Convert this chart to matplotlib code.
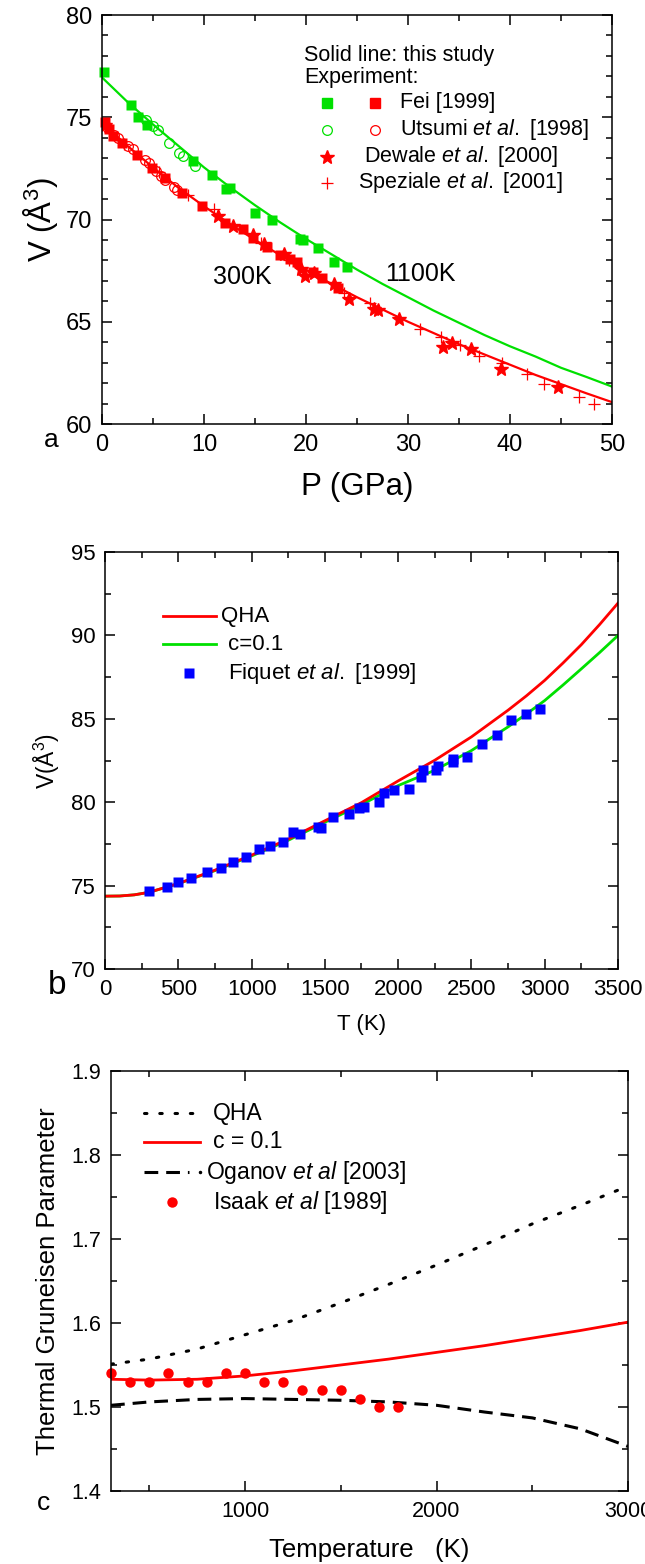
import numpy as np
import matplotlib
matplotlib.use('Agg')
import matplotlib.pyplot as plt
from matplotlib.ticker import MultipleLocator

plt.rcParams['font.family'] = ['Liberation Sans', 'DejaVu Sans']
plt.rcParams['mathtext.fontset'] = 'custom'
plt.rcParams['mathtext.rm'] = 'Liberation Sans'
plt.rcParams['mathtext.it'] = 'Liberation Sans:italic'

GREEN = '#00e000'
RED = '#ff0000'
BLUE = '#0000ff'

# ---------------- panel a : V(P) ----------------
p_fit = [0, 2.5, 5, 7.5, 10, 12.5, 15, 17.5, 20, 22.5, 25, 27.5, 30, 32.5, 35,
         37.5, 40, 42.5, 45, 47.5, 50]
v_300k = [74.75, 73.6, 72.55, 71.55, 70.65, 69.8, 69.0, 68.25, 67.55, 66.85,
          66.2, 65.6, 65.0, 64.45, 63.9, 63.4, 62.9, 62.4, 61.95, 61.5, 61.07]
v_1100k = [76.95, 75.75, 74.65, 73.6, 72.55, 71.6, 70.7, 69.85, 69.05, 68.3,
           67.55, 66.85, 66.2, 65.55, 64.95, 64.35, 63.8, 63.3, 62.75, 62.3, 61.83]

fei_hot_p = [0.15, 2.8, 3.55, 4.4, 8.9, 10.8, 12.2, 12.6, 15.0, 16.7, 19.4, 19.7,
             21.2, 22.7, 24.0]
fei_hot_v = [77.2, 75.62, 75.02, 74.6, 72.85, 72.17, 71.5, 71.52, 70.33, 69.97,
             69.03, 69.0, 68.6, 67.92, 67.68]
fei_p = [0.3, 0.7, 1.05, 2.0, 3.45, 4.95, 6.2, 7.8, 9.8, 12.1, 13.85, 14.85,
         16.2, 17.45, 18.45, 19.1, 20.7, 21.6, 23.1]
fei_v = [74.78, 74.45, 74.1, 73.72, 73.15, 72.5, 72.03, 71.3, 70.66, 69.85,
         69.52, 69.12, 68.65, 68.26, 68.08, 67.92, 67.42, 67.16, 66.66]
uts_hot_p = [4.3, 5.0, 5.5, 6.6, 7.6, 7.9, 9.15]
uts_hot_v = [74.85, 74.55, 74.4, 73.72, 73.25, 73.1, 72.63]
uts_p = [0.5, 1.2, 1.6, 2.6, 3.0, 4.2, 4.6, 5.3, 5.8, 6.2, 7.1, 7.4]
uts_v = [74.5, 74.15, 74.0, 73.6, 73.45, 72.9, 72.75, 72.35, 72.15, 71.95,
         71.6, 71.45]
dew_p = [0.3, 11.4, 12.85, 14.85, 15.85, 17.8, 19.5, 19.95, 20.8, 22.7, 24.25,
         26.7, 27.05, 29.1, 33.4, 34.3, 36.2, 39.15, 44.7]
dew_v = [74.6, 70.15, 69.67, 69.26, 68.81, 68.33, 67.58, 67.25, 67.38, 66.83,
         66.12, 65.62, 65.57, 65.15, 63.78, 63.94, 63.67, 62.67, 61.8]
spz_p = [0.8, 2.2, 5.6, 8.4, 11.0, 15.6, 18.3, 23.7, 26.3, 31.2, 33.2, 35.1,
         37.0, 39.2, 41.7, 43.3, 46.8, 48.2]
spz_v = [74.3, 73.7, 72.3, 71.19, 70.52, 68.84, 68.0, 66.41, 65.91, 64.65,
         64.23, 63.84, 63.31, 62.97, 62.43, 61.96, 61.3, 61.0]

# ---------------- panel b : V(T) ----------------
t_fit = [0, 100, 200, 300, 500, 750, 1000, 1250, 1500, 1750, 2000, 2250, 2500,
         2750, 2875, 3000, 3125, 3250, 3375, 3500]
v_qha = [74.37, 74.38, 74.45, 74.6, 75.13, 75.93, 76.83, 77.79, 78.89, 79.98,
         81.28, 82.52, 83.92, 85.52, 86.38, 87.31, 88.35, 89.45, 90.66, 91.94]
v_c01 = [74.37, 74.38, 74.45, 74.6, 75.12, 75.9, 76.78, 77.72, 78.8, 79.86,
         81.0, 81.92, 83.1, 84.52, 85.29, 86.1, 87.03, 88.0, 88.98, 90.0]
fiq_t = [300, 421, 500, 589, 693, 791, 876, 963, 1052, 1123, 1212, 1282, 1333,
         1451, 1474, 1558, 1664, 1735, 1768, 1872, 1903, 1973, 2071, 2153, 2167,
         2259, 2273, 2372, 2377, 2470, 2574, 2672, 2773, 2871, 2969]
fiq_v = [74.67, 74.93, 75.23, 75.47, 75.79, 76.03, 76.43, 76.69, 77.17, 77.37,
         77.63, 78.23, 78.09, 78.49, 78.43, 79.13, 79.29, 79.66, 79.72, 80.02,
         80.58, 80.72, 80.82, 81.52, 81.92, 81.92, 82.18, 82.42, 82.62, 82.72,
         83.52, 84.06, 84.92, 85.32, 85.62]

# ---------------- panel c : gamma(T) ----------------
t_g = [300, 500, 750, 1000, 1250, 1500, 1750, 2000, 2250, 2500, 2750, 3000]
g_qha = [1.551, 1.557, 1.569, 1.586, 1.603, 1.624, 1.646, 1.669, 1.693, 1.718,
         1.740, 1.763]
g_c01 = [1.533, 1.532, 1.533, 1.537, 1.543, 1.550, 1.557, 1.565, 1.573, 1.582,
         1.591, 1.601]
g_oganov = [1.502, 1.506, 1.509, 1.510, 1.509, 1.508, 1.506, 1.502, 1.494,
            1.487, 1.474, 1.453]
isaak_t = [300, 400, 500, 600, 700, 800, 900, 1000, 1100, 1200, 1300, 1400,
           1500, 1600, 1700, 1800]
isaak_g = [1.54, 1.53, 1.53, 1.54, 1.53, 1.53, 1.54, 1.54, 1.53, 1.53, 1.52,
           1.52, 1.52, 1.51, 1.50, 1.50]


def style_axes(ax, fs):
    for s in ax.spines.values():
        s.set_linewidth(1.1)
    ax.tick_params(which='both', direction='in', top=True, right=True,
                   labelsize=fs, width=1.1, pad=7)
    ax.tick_params(which='major', length=7)
    ax.tick_params(which='minor', length=4)


fig = plt.figure(figsize=(6.45, 15.64), dpi=100)

# ===== a =====
ax = fig.add_axes([0.1581, 0.7289, 0.7907, 0.2615])
ax.plot(p_fit, v_1100k, '-', color=GREEN, lw=1.6)
ax.plot(p_fit, v_300k, '-', color=RED, lw=1.6)
ax.plot(fei_hot_p, fei_hot_v, 's', color=GREEN, ms=6.5, mec='none', clip_on=False)
ax.plot(uts_hot_p, uts_hot_v, 'o', mfc='none', mec=GREEN, ms=7, mew=0.9)
ax.plot(fei_p, fei_v, 's', color=RED, ms=6.5, mec='none', clip_on=False)
ax.plot(uts_p, uts_v, 'o', mfc='none', mec=RED, ms=7, mew=0.9)
ax.plot(dew_p, dew_v, '*', color=RED, ms=10, mec=RED)
ax.plot(spz_p, spz_v, '+', color=RED, ms=8, mew=0.9)
ax.set_xlim(0, 50)
ax.set_ylim(60, 80)
ax.xaxis.set_major_locator(MultipleLocator(10))
ax.xaxis.set_minor_locator(MultipleLocator(5))
ax.yaxis.set_major_locator(MultipleLocator(5))
ax.yaxis.set_minor_locator(MultipleLocator(1))
style_axes(ax, 17)
ax.set_xlabel('P (GPa)', fontsize=22.5, labelpad=12)
ax.set_ylabel('V (Å$^3$)', fontsize=22.5, labelpad=4)
ax.text(10.9, 67.2, '300K', fontsize=18, va='center', ha='left')
ax.text(27.8, 67.35, '1100K', fontsize=18, va='center', ha='left')

tr = ax.transAxes
ax.text(0.396, 0.90, 'Solid line: this study', transform=tr, fontsize=15.5, va='center')
ax.text(0.396, 0.848, 'Experiment:', transform=tr, fontsize=15.5, va='center')
ax.plot([0.442], [0.785], 's', color=GREEN, ms=6.5, transform=tr)
ax.plot([0.535], [0.785], 's', color=RED, ms=6.5, transform=tr)
ax.text(0.584, 0.785, 'Fei [1999]', transform=tr, fontsize=15.5, va='center')
ax.plot([0.442], [0.719], 'o', mfc='none', mec=GREEN, ms=7, mew=0.9, transform=tr)
ax.plot([0.535], [0.719], 'o', mfc='none', mec=RED, ms=7, mew=0.9, transform=tr)
ax.text(0.584, 0.719, r'Utsumi $\it{et\ al.}$ [1998]', transform=tr, fontsize=15.5, va='center')
ax.plot([0.442], [0.654], '*', color=RED, ms=10, transform=tr)
ax.text(0.514, 0.654, r'Dewale $\it{et\ al.}$ [2000]', transform=tr, fontsize=15.5, va='center')
ax.plot([0.442], [0.590], '+', color=RED, ms=8, mew=0.9, transform=tr)
ax.text(0.502, 0.590, r'Speziale $\it{et\ al.}$ [2001]', transform=tr, fontsize=15.5, va='center')
fig.text(51 / 645, 1 - 440 / 1564, 'a', fontsize=19, ha='center', va='center')

# ===== b =====
bx = fig.add_axes([0.1628, 0.3804, 0.7953, 0.2666])
bx.plot(t_fit, v_c01, '-', color=GREEN, lw=2)
bx.plot(t_fit, v_qha, '-', color=RED, lw=2)
bx.plot(fiq_t, fiq_v, 's', color=BLUE, ms=6.5, mec='none')
bx.set_xlim(0, 3500)
bx.set_ylim(70, 95)
bx.xaxis.set_major_locator(MultipleLocator(500))
bx.xaxis.set_minor_locator(MultipleLocator(250))
bx.yaxis.set_major_locator(MultipleLocator(5))
bx.yaxis.set_minor_locator(MultipleLocator(2.5))
style_axes(bx, 16)
bx.set_xlabel('T (K)', fontsize=16, labelpad=10)
bx.set_ylabel('V(Å$^3$)', fontsize=16.5, labelpad=6)
tr = bx.transAxes
bx.plot([0.113, 0.216], [0.8465, 0.8465], '-', color=RED, lw=2, transform=tr)
bx.text(0.226, 0.8465, 'QHA', transform=tr, fontsize=16, va='center')
bx.plot([0.113, 0.216], [0.779, 0.779], '-', color=GREEN, lw=2, transform=tr)
bx.text(0.24, 0.779, 'c=0.1', transform=tr, fontsize=16, va='center')
bx.plot([0.164], [0.71], 's', color=BLUE, ms=6.5, mec='none', transform=tr)
bx.text(0.24, 0.71, r'Fiquet $\it{et\ al.}$ [1999]', transform=tr, fontsize=16, va='center')
fig.text(57 / 645, 1 - 985 / 1564, 'b', fontsize=24, ha='center', va='center')

# ===== c =====
cx = fig.add_axes([0.1721, 0.0467, 0.8016, 0.2685])
cx.plot(t_g, g_qha, color='black', lw=2.2, ls=(0, (0.8, 4.2)), dash_capstyle='round')
cx.plot(t_g, g_c01, '-', color=RED, lw=2)
cx.plot(t_g, g_oganov, color='black', lw=2.2, ls=(0, (4.5, 2.6)))
cx.plot(isaak_t, isaak_g, 'o', color=RED, ms=7.5, mec='none', clip_on=False)
cx.set_xlim(300, 3000)
cx.set_ylim(1.4, 1.9)
cx.xaxis.set_major_locator(MultipleLocator(1000))
cx.xaxis.set_minor_locator(MultipleLocator(500))
cx.yaxis.set_major_locator(MultipleLocator(0.1))
cx.yaxis.set_minor_locator(MultipleLocator(0.05))
style_axes(cx, 15.5)
cx.set_xlabel('Temperature   (K)', fontsize=18.5, labelpad=12)
cx.set_ylabel('Thermal Gruneisen Parameter', fontsize=18.5, labelpad=8)
tr = cx.transAxes
cx.plot([0.064, 0.167], [0.9, 0.9], color='black', lw=2.2, ls=(0, (0.8, 4.2)),
        dash_capstyle='round', transform=tr)
cx.text(0.1974, 0.9, 'QHA', transform=tr, fontsize=16.5, va='center')
cx.plot([0.064, 0.172], [0.831, 0.831], '-', color=RED, lw=2, transform=tr)
cx.text(0.1974, 0.831, 'c = 0.1', transform=tr, fontsize=16.5, va='center')
cx.plot([0.064, 0.15], [0.7595, 0.7595], color='black', lw=2.2, ls=(0, (4.5, 2.6)), transform=tr)
cx.plot([0.1715], [0.7595], 'o', color='black', ms=1.5, transform=tr)
cx.text(0.184, 0.7595, r'Oganov $\it{et\ al}$ [2003]', transform=tr, fontsize=16.5, va='center')
cx.plot([0.118], [0.688], 'o', color=RED, ms=7.5, mec='none', transform=tr)
cx.text(0.1974, 0.688, r'Isaak $\it{et\ al}$ [1989]', transform=tr, fontsize=16.5, va='center')
fig.text(43 / 645, 1 - 1503 / 1564, 'c', fontsize=19, ha='center', va='center')

fig.savefig('out.png', dpi=100)
